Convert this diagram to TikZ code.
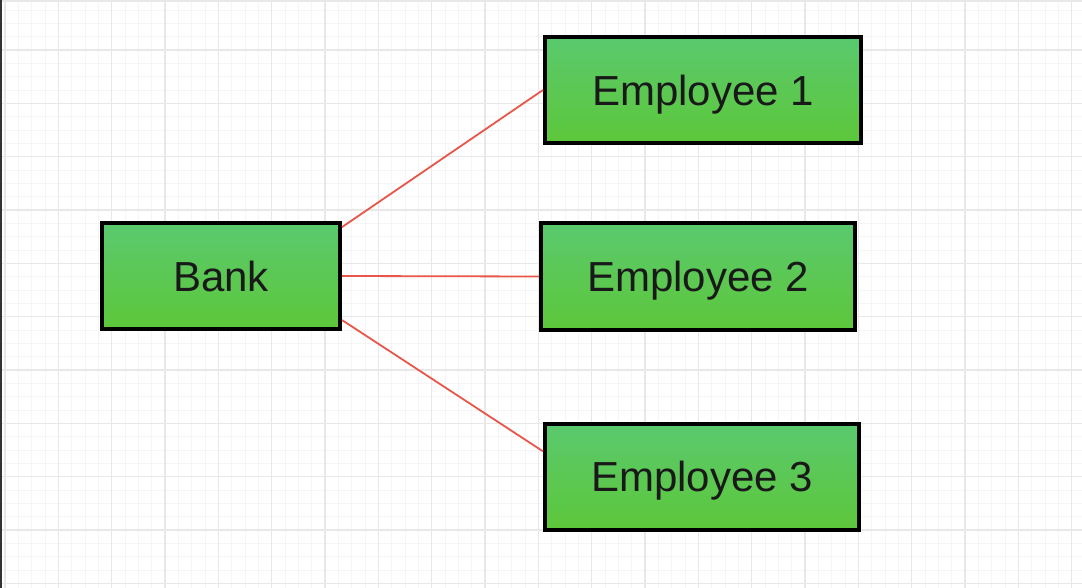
\documentclass[tikz,border=0pt]{standalone}
\usepackage{fontspec}
\setmainfont{Liberation Sans}
\definecolor{gridmajor}{RGB}{232,232,232}
\definecolor{gridminor}{RGB}{245,245,245}
\definecolor{boxtop}{RGB}{90,201,110}
\definecolor{boxbottom}{RGB}{93,199,58}
\definecolor{linkred}{RGB}{232,86,74}
\tikzset{
  entity/.style={draw=black, line width=4pt, top color=boxtop, bottom color=boxbottom,
    minimum height=106pt, inner sep=0pt, text depth=0pt, font=\fontsize{42}{50}\selectfont, text=black!90},
  link/.style={draw=linkred, line width=1.8pt}
}
\begin{document}
\begin{tikzpicture}[x=1pt, y=-1pt]
			\useasboundingbox (0,0) rectangle (1082,588);
			\fill[white] (0,0) rectangle (1082,588);
			% minor grid
			\foreach \i in {0,...,81} {
				\draw[gridminor, line width=0.8pt] ({5+13.333*\i},0) -- ({5+13.333*\i},588);
			}
			\foreach \j in {0,...,44} {
				\draw[gridminor, line width=0.8pt] (0,{-3.3+13.333*\j}) -- (1082,{-3.3+13.333*\j});
			}
			% major grid
			\foreach \i in {0,...,20} {
				\draw[gridmajor, line width=1.4pt] ({5+53.333*\i},0) -- ({5+53.333*\i},588);
			}
			\foreach \j in {1,...,11} {
				\draw[gridmajor, line width=1.4pt] (0,{-3.3+53.333*\j}) -- (1082,{-3.3+53.333*\j});
			}
			% frame edges
			\draw[gridmajor, line width=2pt] (0,1) -- (1082,1);
			\draw[black!80, line width=1.6pt] (0.8,0) -- (0.8,588);
			% boxes
			\node[entity, minimum width=238pt] (bank) at (221,276) {Bank};
			\node[entity, minimum width=316pt] (emp1) at (703,90) {Employee 1};
			\node[entity, minimum width=314pt] (emp2) at (698,276.5) {Employee 2};
			\node[entity, minimum width=314pt] (emp3) at (702,476.5) {Employee 3};
			% links
			\draw[link] (bank.22) -- (emp1.west);
			\draw[link] (bank.east) -- (emp2.west);
			\draw[link] (bank.-20) -- (emp3.171);
		\end{tikzpicture}
\end{document}
